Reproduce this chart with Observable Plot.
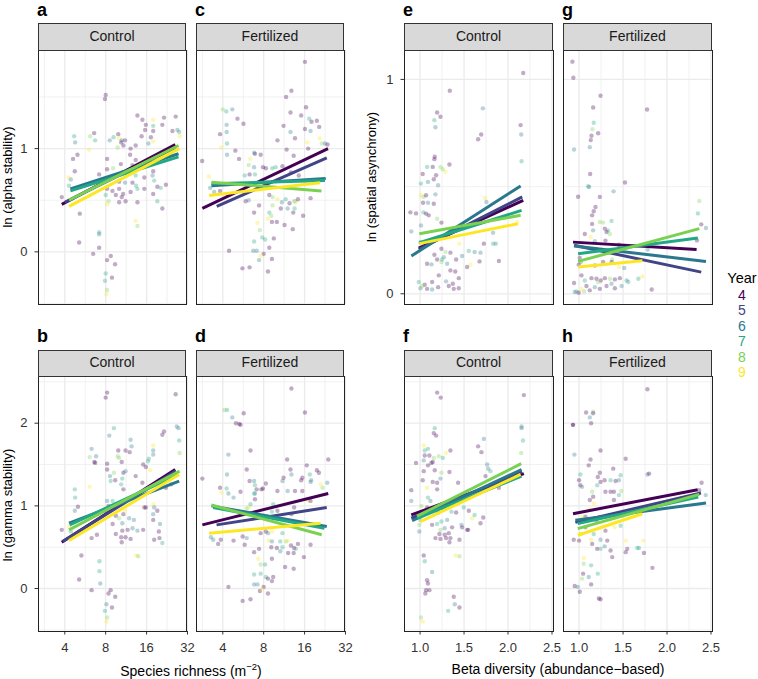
<!DOCTYPE html>
<html><head><meta charset="utf-8">
<script src="https://cdn.jsdelivr.net/npm/d3@7"></script>
<script src="https://cdn.jsdelivr.net/npm/@observablehq/plot@0.6"></script>
<style>
body{margin:0;background:#fff;font-family:"Liberation Sans",Arial,sans-serif;}
#root{position:relative;width:758px;height:679px;overflow:hidden;background:#fff;}
.abs{position:absolute;white-space:nowrap;}
.strip{position:absolute;box-sizing:border-box;background:#D9D9D9;border:1px solid #333;font-size:14px;color:#1a1a1a;text-align:center;}
.letter{position:absolute;font-weight:bold;font-size:18px;line-height:normal;color:#000;}
.ytitle{position:absolute;white-space:nowrap;font-size:13px;color:#000;transform:translate(-50%,-50%) rotate(-90deg);}
.xtitle{position:absolute;white-space:nowrap;font-size:14px;line-height:14px;color:#000;transform:translateX(-50%);}
.leg{position:absolute;font-size:14px;line-height:14px;transform:translateX(-50%);}
</style>
</head><body><div id="root"></div>
<script>
// ---------- data ----------
const years = [4,5,6,7,8,9];
const yearColors = ["#440154","#414487","#2A788E","#22A884","#7AD151","#FDE725"];
const treatments = ["Control","Fertilized"];
const richnessTicks = [4,8,16,32];
const richnessMinor = [2.83,5.66,11.31,22.63];
const betaTicks = [1.0,1.5,2.0,2.5];
const betaMinor = [1.25,1.75,2.25];
const yTicksTop = [0,1];
const yMinorTopLeft = [-0.5,0.5,1.5];
const yMinorTopRight = [0.5];
const yTicksBottom = [0,1,2];
const yMinorBottom = [-0.5,0.5,1.5,2.5];

// points: [x, y, year]
const pointsA = [[8.0,1.52,4],[7.9,1.48,4],[13.7,1.32,4],[14.9,1.28,4],[17.9,1.28,9],[21.5,1.30,4],[26.2,1.31,4],[15.8,1.23,4],[17.9,1.22,7],[17.9,1.17,4],[20.9,1.23,4],[15.6,1.18,4],[14.7,1.12,4],[17.2,1.11,4],[16.5,1.05,6],[17.9,1.07,9],[27.0,1.18,6],[27.8,1.16,7],[28.0,1.12,9],[24.8,1.17,4],[4.69,1.12,7],[4.77,1.06,6],[6.15,1.12,8],[6.58,1.15,4],[6.69,1.08,7],[8.57,1.08,6],[9.13,1.11,7],[9.9,1.14,4],[10.05,1.10,9],[10.5,1.08,6],[10.4,1.06,4],[11.1,1.08,4],[9.8,1.01,8],[10.8,1.03,4],[12.2,1.00,4],[13.3,1.03,4],[6.04,0.99,9],[4.96,0.94,4],[4.6,0.90,4],[8.2,0.90,4],[10.35,0.85,4],[12.1,0.94,4],[13.3,0.89,4],[12.6,0.84,4],[4.74,0.78,4],[7.16,0.75,4],[8.2,0.80,4],[9.06,0.81,8],[9.5,0.74,6],[10.6,0.77,4],[11.2,0.77,7],[13.3,0.74,7],[15.4,0.72,4],[17.9,0.78,4],[17.7,0.74,6],[18.2,0.69,7],[22.2,0.65,4],[4.26,0.72,9],[4.43,0.70,6],[4.3,0.64,7],[8.2,0.71,4],[10.05,0.68,4],[11.1,0.67,6],[12.6,0.67,4],[13.4,0.64,7],[15.4,0.61,4],[8.2,0.61,4],[8.97,0.59,4],[10.05,0.61,4],[10.75,0.56,4],[12.2,0.58,4],[13.7,0.61,7],[19.2,0.63,4],[20.35,0.62,7],[17.9,0.56,4],[9.5,0.55,4],[10.5,0.53,4],[11.2,0.49,4],[10.05,0.48,4],[8.0,0.55,7],[8.4,0.49,8],[8.2,0.46,9],[13.7,0.48,4],[19.2,0.49,7],[20.9,0.42,4],[5.16,0.37,4],[3.8,0.53,4],[13.3,0.30,9],[13.7,0.25,8],[7.16,0.19,7],[7.16,0.17,6],[5.1,0.09,4],[7.16,0.04,4],[6.47,-0.02,4],[8.72,-0.04,4],[8.2,-0.08,4],[9.38,-0.12,4],[8.0,-0.21,7],[8.9,-0.25,4],[7.9,-0.28,7],[8.2,-0.37,8],[8.1,-0.41,9]];
const pointsC = [[16.1,1.84,4],[12.8,1.56,4],[11.7,1.50,4],[12.6,1.35,4],[16.4,1.40,4],[15.1,1.32,4],[17.3,1.29,7],[18.0,1.26,4],[19.7,1.27,4],[20.5,1.21,4],[17.7,1.17,6],[16.1,1.19,4],[11.2,1.22,4],[10.1,1.08,4],[12.6,1.16,6],[13.6,1.10,4],[20.7,1.10,9],[16.8,1.06,9],[21.4,1.05,8],[22.6,1.05,6],[23.6,1.04,4],[17.0,1.00,4],[11.8,0.99,4],[13.3,0.93,4],[4.0,1.38,8],[4.25,1.36,7],[4.7,1.38,6],[5.13,1.29,4],[4.27,1.23,6],[5.68,1.24,4],[4.27,1.16,6],[3.82,1.14,4],[3.9,1.01,9],[4.3,1.05,7],[4.95,0.98,4],[4.3,0.94,6],[5.27,0.90,4],[2.82,0.88,4],[3.16,0.73,9],[3.23,0.62,6],[3.46,0.58,6],[3.82,0.59,4],[6.8,0.96,7],[6.9,0.95,4],[7.6,0.94,4],[6.36,0.90,9],[6.2,0.84,8],[6.8,0.82,6],[7.9,0.82,4],[8.3,0.81,4],[9.27,0.81,7],[9.8,0.82,7],[11.0,0.83,4],[5.8,0.74,7],[6.3,0.75,4],[6.9,0.75,7],[12.7,0.77,4],[14.5,0.74,4],[17.7,0.52,4],[5.9,0.49,4],[6.2,0.50,6],[7.4,0.45,4],[8.8,0.55,4],[9.3,0.53,8],[10.1,0.51,9],[10.9,0.48,6],[11.6,0.51,7],[12.4,0.47,4],[13.5,0.49,7],[13.7,0.48,9],[14.3,0.51,4],[9.3,0.45,8],[10.7,0.42,4],[12.0,0.42,6],[13.2,0.38,4],[13.5,0.42,7],[6.8,0.38,4],[8.8,0.38,7],[9.1,0.35,8],[9.2,0.29,4],[8.6,0.32,9],[10.0,0.29,4],[11.4,0.26,4],[13.1,0.22,4],[15.6,0.35,4],[7.2,0.28,9],[7.5,0.21,8],[7.8,0.14,7],[8.2,0.12,7],[6.8,0.10,7],[9.5,0.13,4],[7.1,0.01,6],[6.7,0.01,6],[8.8,0.04,4],[4.45,0.01,4],[8.0,-0.02,4],[7.6,-0.04,9],[7.4,-0.08,6],[9.2,-0.07,4],[5.58,-0.16,4],[6.3,-0.15,4],[8.6,-0.19,4]];
const pointsE = [[2.173,1.03,4],[1.338,0.947,4],[1.714,0.865,6],[1.194,0.846,4],[1.232,0.826,4],[1.163,0.81,7],[1.175,0.777,6],[2.143,0.787,4],[2.15,0.743,6],[1.695,0.743,4],[1.66,0.721,4],[2.154,0.618,7],[1.167,0.639,4],[1.163,0.628,4],[1.08,0.592,7],[1.144,0.592,4],[1.232,0.592,8],[1.258,0.581,8],[1.289,0.569,9],[1.334,0.603,4],[1.03,0.559,4],[1.182,0.553,4],[1.01,0.514,7],[1.09,0.522,6],[1.156,0.534,4],[1.205,0.506,6],[1.01,0.46,9],[1.04,0.452,8],[1.068,0.46,4],[1.175,0.464,6],[1.034,0.425,4],[1.09,0.425,6],[1.156,0.42,4],[0.89,0.38,4],[0.954,0.375,4],[0.90,0.291,6],[1.038,0.38,7],[1.068,0.374,4],[1.099,0.366,4],[1.194,0.35,8],[1.243,0.332,4],[1.011,0.319,6],[1.737,0.447,9],[1.755,0.428,6],[1.83,0.285,6],[1.725,0.234,4],[1.83,0.234,7],[1.86,0.234,6],[1.896,0.153,4],[2.105,0.335,9],[1.448,0.234,9],[1.004,0.241,7],[1.243,0.21,4],[1.289,0.195,8],[1.345,0.192,4],[1.27,0.171,6],[1.194,0.16,4],[1.13,0.137,6],[1.08,0.14,4],[1.243,0.148,8],[1.308,0.14,6],[1.41,0.16,4],[1.478,0.176,6],[1.554,0.2,7],[1.62,0.195,6],[1.687,0.192,6],[1.676,0.151,4],[1.573,0.136,9],[1.535,0.125,4],[1.345,0.109,4],[1.4,0.104,4],[1.44,0.073,4],[1.372,0.047,4],[1.296,0.058,6],[1.213,0.086,4],[1.137,0.055,4],[1.053,0.042,4],[1.08,0.023,4],[1.004,0.026,6],[1.137,0.02,6],[1.205,0.031,4],[1.326,0.036,4],[1.383,0.023,4],[1.44,0.026,4],[0.985,0.055,7],[1.023,0.036,8],[1.25,0.16,7],[1.163,0.182,4]];
const pointsG = [[0.924,1.083,4],[0.935,1.008,4],[1.244,0.924,4],[1.16,0.869,4],[1.773,0.86,4],[1.167,0.798,7],[1.152,0.768,8],[1.217,0.749,4],[1.141,0.737,4],[1.133,0.717,4],[1.122,0.684,6],[0.943,0.673,6],[1.126,0.559,4],[1.103,0.502,7],[1.114,0.498,6],[1.522,0.519,4],[1.392,0.478,6],[0.989,0.453,4],[1.236,0.452,4],[1.187,0.405,4],[1.167,0.385,4],[1.148,0.366,4],[1.236,0.335,8],[1.274,0.332,8],[1.369,0.34,7],[1.148,0.326,4],[1.16,0.296,6],[1.293,0.304,4],[1.33,0.296,7],[1.312,0.288,4],[1.065,0.279,4],[1.133,0.265,9],[1.35,0.279,8],[1.179,0.245,6],[1.3,0.248,4],[1.453,0.229,4],[2.367,0.433,8],[2.351,0.375,7],[2.389,0.324,4],[2.443,0.307,6],[2.34,0.249,4],[1.78,0.206,6],[1.008,0.167,4],[1.377,0.16,8],[0.996,0.136,4],[1.019,0.148,6],[1.179,0.132,4],[1.274,0.148,4],[1.369,0.148,4],[1.453,0.125,9],[1.514,0.12,6],[1.027,0.086,4],[1.065,0.062,7],[1.141,0.073,4],[1.198,0.07,4],[1.247,0.062,4],[1.293,0.073,4],[1.35,0.07,8],[1.407,0.067,4],[1.464,0.073,4],[1.541,0.062,6],[1.56,0.055,7],[1.674,0.07,7],[1.72,0.081,9],[1.826,0.02,4],[0.943,0.05,4],[0.97,0.011,7],[1.027,0.023,9],[1.084,0.036,4],[1.122,0.016,4],[1.179,0.031,6],[1.236,0.023,4],[1.312,0.036,4],[1.407,0.026,4],[0.996,0.005,4],[0.951,0.008,6],[1.057,0.011,8],[1.217,0.055,8],[1.369,0.047,6],[1.483,0.036,6]];
const pointsB = [[8.2,2.37,4],[8.0,2.31,4],[26.2,2.35,4],[26.7,1.96,6],[27.5,1.94,6],[21.5,1.90,4],[20.9,1.86,4],[9.2,1.94,7],[8.5,1.85,6],[27.8,1.79,7],[28.0,1.64,8],[12.2,1.80,6],[12.4,1.72,6],[6.3,1.69,6],[6.1,1.59,8],[6.8,1.60,6],[6.7,1.52,4],[6.6,1.53,4],[9.9,1.67,4],[9.8,1.60,8],[10.05,1.58,8],[10.5,1.53,4],[11.2,1.67,4],[12.0,1.65,4],[17.9,1.73,9],[17.9,1.67,6],[17.9,1.62,6],[16.6,1.57,7],[16.4,1.54,7],[15.1,1.50,4],[15.8,1.47,4],[17.0,1.43,9],[8.2,1.51,4],[8.2,1.44,4],[9.2,1.40,8],[10.8,1.40,4],[11.2,1.42,6],[8.6,1.36,6],[8.7,1.30,7],[9.4,1.31,4],[10.6,1.33,7],[10.4,1.26,7],[10.8,1.20,4],[13.3,1.36,4],[14.9,1.28,4],[19.9,1.31,4],[22.2,1.22,4],[24.3,1.26,4],[6.1,1.23,9],[4.74,1.20,7],[4.77,1.10,7],[5.0,0.99,4],[4.74,0.94,6],[3.8,0.71,4],[4.3,0.75,9],[4.43,0.69,7],[8.2,1.06,6],[9.0,1.06,7],[8.4,1.00,4],[8.0,0.94,4],[9.5,0.88,4],[10.8,0.90,4],[11.1,0.94,9],[10.05,0.85,8],[11.9,0.85,6],[12.9,0.83,6],[15.4,0.98,4],[15.8,0.98,4],[18.0,1.02,9],[18.2,0.98,6],[19.2,0.94,4],[17.9,0.90,6],[17.9,0.83,4],[20.1,0.78,6],[19.7,0.69,4],[19.9,0.61,4],[20.9,0.55,7],[18.2,0.59,4],[10.6,0.79,6],[10.6,0.70,4],[11.6,0.71,4],[12.6,0.73,6],[13.7,0.70,6],[15.1,0.71,4],[9.0,0.78,4],[9.5,0.66,4],[10.4,0.62,4],[11.2,0.62,4],[12.2,0.60,4],[10.5,0.56,4],[6.3,0.61,4],[6.9,0.65,4],[5.3,0.40,4],[13.4,0.40,9],[13.9,0.39,8],[7.2,0.33,7],[7.2,0.21,7],[5.1,0.11,4],[7.3,0.06,6],[6.3,-0.02,4],[8.7,-0.02,4],[8.4,-0.06,4],[9.4,-0.10,4],[8.1,-0.19,6],[8.9,-0.23,4],[7.9,-0.27,7],[8.2,-0.35,8],[8.1,-0.40,9]];
const pointsD = [[12.8,2.42,4],[16.1,2.13,4],[4.1,2.16,8],[4.3,2.16,7],[4.7,2.07,6],[5.7,2.12,4],[5.0,2.00,4],[5.3,1.99,4],[5.4,1.98,4],[4.4,1.62,6],[6.4,1.67,4],[11.9,1.56,4],[23.9,1.56,4],[2.83,1.33,4],[6.0,1.44,4],[4.3,1.38,6],[12.6,1.44,4],[12.8,1.38,6],[11.2,1.34,4],[11.0,1.30,6],[15.1,1.31,4],[15.4,1.34,4],[16.6,1.49,4],[19.7,1.43,4],[20.4,1.40,4],[17.5,1.38,7],[17.9,1.31,6],[17.7,1.29,6],[6.3,1.30,4],[6.8,1.30,6],[6.9,1.25,7],[7.1,1.20,4],[8.3,1.27,4],[7.7,1.20,4],[7.9,1.21,4],[10.1,1.18,4],[12.0,1.18,6],[13.6,1.18,4],[15.4,1.18,4],[21.0,1.26,9],[23.5,1.28,6],[21.7,1.22,8],[3.82,1.22,4],[3.9,1.16,9],[4.27,1.21,7],[4.4,1.15,6],[4.8,1.10,6],[5.4,1.17,4],[6.9,1.15,6],[6.9,1.08,4],[6.8,1.15,7],[17.1,1.06,9],[17.7,1.06,4],[9.4,1.02,7],[13.4,0.98,4],[6.2,0.98,9],[6.0,0.97,8],[6.4,1.02,7],[9.2,0.93,7],[10.1,0.94,4],[12.8,0.90,4],[3.27,0.62,6],[3.4,0.59,6],[3.7,0.54,4],[3.87,0.59,4],[4.8,0.58,4],[5.6,0.63,4],[6.0,0.61,6],[5.8,0.53,4],[7.6,0.67,4],[8.3,0.69,4],[9.2,0.69,9],[8.6,0.67,6],[11.0,0.67,7],[8.7,0.58,9],[9.2,0.57,6],[10.6,0.57,7],[11.7,0.57,8],[12.0,0.58,9],[12.7,0.52,4],[13.4,0.49,4],[13.8,0.48,7],[14.3,0.54,4],[12.1,0.43,4],[13.3,0.43,4],[9.1,0.50,4],[10.0,0.49,4],[10.6,0.45,6],[11.0,0.50,7],[15.8,0.38,4],[17.7,0.53,4],[6.8,0.44,4],[7.4,0.48,4],[9.2,0.36,4],[7.3,0.36,9],[7.6,0.29,8],[8.2,0.29,7],[6.8,0.17,7],[7.6,0.18,7],[8.3,0.14,7],[8.6,0.12,4],[9.4,0.14,4],[9.2,0.09,4],[11.5,0.26,4],[13.3,0.24,4],[6.8,0.05,6],[7.2,0.05,6],[8.0,0.02,4],[7.5,-0.03,4],[8.6,-0.06,4],[4.4,0.02,4],[5.6,-0.15,4],[6.4,-0.13,4],[7.8,-0.01,9]];
const pointsF = [[1.194,2.37,4],[1.235,2.31,4],[2.18,2.34,4],[2.154,1.96,6],[2.154,1.94,6],[2.17,1.79,7],[2.15,1.64,8],[1.167,1.94,7],[1.156,1.88,4],[1.182,1.85,4],[1.725,1.81,6],[1.66,1.72,4],[1.698,1.65,4],[1.042,1.73,9],[1.053,1.67,7],[1.09,1.69,7],[1.053,1.61,4],[1.106,1.61,4],[1.156,1.58,8],[1.213,1.60,8],[1.258,1.58,7],[1.345,1.67,4],[1.296,1.64,9],[1.042,1.55,6],[1.09,1.49,4],[1.129,1.52,4],[1.144,1.53,4],[0.954,1.52,4],[1.167,1.43,4],[1.243,1.40,8],[1.042,1.42,4],[1.334,1.41,4],[1.232,1.33,6],[1.144,1.29,4],[1.194,1.28,4],[1.03,1.31,4],[1.08,1.22,9],[1.194,1.20,4],[1.433,1.28,4],[1.763,1.50,6],[1.775,1.45,6],[1.744,1.36,4],[1.80,1.42,7],[1.896,1.22,4],[0.90,1.19,4],[0.90,1.06,6],[1.09,1.10,7],[1.118,1.06,6],[1.015,1.00,8],[1.08,0.98,4],[1.205,0.92,4],[1.27,0.96,4],[1.357,0.93,7],[1.41,0.92,4],[1.497,0.98,7],[1.554,0.94,4],[1.592,0.85,9],[1.62,0.89,7],[1.687,0.79,4],[1.718,0.86,4],[1.004,0.83,7],[0.992,0.77,8],[0.992,0.69,6],[1.137,0.77,4],[1.194,0.78,7],[1.243,0.81,7],[1.308,0.83,6],[1.28,0.73,6],[1.232,0.71,8],[1.364,0.74,4],[1.47,0.77,6],[1.478,0.74,4],[1.535,0.71,4],[1.547,0.71,4],[1.22,0.66,4],[1.28,0.65,4],[1.326,0.67,4],[1.175,0.61,4],[1.232,0.60,4],[1.296,0.61,4],[1.345,0.61,4],[1.334,0.56,4],[1.448,0.59,4],[1.402,0.40,9],[1.448,0.39,8],[1.042,0.40,4],[1.053,0.33,7],[1.137,0.20,6],[1.08,0.10,4],[1.09,0.06,4],[1.068,-0.02,4],[1.106,-0.02,4],[1.06,-0.06,4],[1.383,-0.10,4],[1.395,-0.19,6],[1.448,-0.23,4],[1.319,-0.27,7],[1.011,-0.35,8],[1.03,-0.40,9]];
const pointsH = [[1.777,2.41,4],[1.08,2.13,4],[1.16,2.14,8],[1.16,2.12,4],[1.122,2.07,6],[1.137,2.00,4],[0.931,1.98,4],[0.931,1.98,4],[0.947,1.62,6],[1.244,1.67,4],[1.53,1.57,4],[1.13,1.56,4],[1.11,1.49,4],[1.388,1.45,4],[1.236,1.40,4],[1.472,1.37,7],[1.777,1.38,6],[1.796,1.39,4],[1.015,1.38,7],[1.0,1.31,4],[1.213,1.35,4],[1.244,1.29,4],[1.29,1.31,4],[1.358,1.31,7],[1.415,1.30,4],[1.453,1.31,6],[1.015,1.25,4],[1.034,1.23,6],[1.206,1.25,7],[1.30,1.17,4],[1.358,1.17,4],[1.396,1.17,4],[1.48,1.18,8],[1.453,1.13,7],[1.149,1.17,8],[1.16,1.11,4],[1.167,1.03,9],[1.122,1.07,4],[1.396,1.07,4],[2.393,1.28,4],[2.44,1.13,6],[2.366,1.19,4],[2.328,1.11,7],[0.939,0.59,4],[1.0,0.58,4],[1.015,0.66,8],[1.137,0.59,9],[1.167,0.66,7],[1.244,0.59,6],[1.149,0.54,4],[1.206,0.48,4],[1.244,0.48,7],[1.29,0.51,6],[1.32,0.58,4],[1.358,0.46,4],[1.377,0.38,4],[1.53,0.58,9],[1.548,0.48,4],[1.53,0.44,4],[1.662,0.49,7],[1.681,0.49,7],[1.731,0.58,9],[1.738,0.43,4],[1.834,0.25,4],[1.053,0.37,9],[1.053,0.30,8],[1.137,0.28,7],[1.046,0.18,4],[1.11,0.14,6],[1.034,0.12,8],[1.213,0.18,7],[1.137,0.05,4],[0.95,0.03,4],[1.008,-0.04,4],[0.985,0.02,6],[1.244,-0.13,4],[1.225,-0.12,4],[1.072,0.87,4],[1.034,0.87,9],[1.072,0.74,4],[1.122,0.96,9],[1.198,0.82,4],[1.30,0.70,4],[1.404,0.74,9],[1.472,0.76,7]];

// fitted lines: [year, x1, y1, x2, y2]
const linesA = [[4,3.8,0.46,26.0,1.04],[5,4.0,0.48,26.0,1.01],[6,4.4,0.61,27.5,0.95],[7,4.4,0.59,27.5,0.92],[8,4.3,0.50,27.5,1.03],[9,4.3,0.44,27.8,1.00]];
const linesC = [[4,2.83,0.42,23.8,1.00],[5,3.61,0.44,23.3,0.91],[6,3.3,0.64,22.9,0.71],[7,3.3,0.66,22.6,0.69],[8,3.3,0.675,21.3,0.59],[9,3.17,0.545,20.8,0.67]];
const linesE = [[4,0.985,0.213,2.173,0.436],[5,0.985,0.207,2.162,0.452],[6,0.901,0.176,2.143,0.503],[7,0.992,0.238,2.154,0.389],[8,0.992,0.28,2.143,0.366],[9,0.992,0.234,2.112,0.327]];
const linesG = [[4,0.931,0.241,2.336,0.207],[5,0.943,0.226,2.389,0.101],[6,0.943,0.223,2.443,0.151],[7,0.989,0.187,2.351,0.26],[8,0.989,0.151,2.367,0.304],[9,0.989,0.125,1.72,0.154]];
const linesB = [[4,3.8,0.56,26.0,1.44],[5,3.85,0.57,26.2,1.42],[6,4.3,0.79,27.8,1.30],[7,4.35,0.77,27.5,1.38],[8,4.3,0.71,28.0,1.42],[9,4.3,0.58,27.8,1.38]];
const linesD = [[4,2.83,0.77,23.9,1.15],[5,3.6,0.77,23.3,0.98],[6,3.3,1.0,23.3,0.75],[7,3.4,0.98,22.4,0.73],[8,3.3,1.01,21.4,0.65],[9,3.17,0.67,21.0,0.79]];
const linesF = [[4,0.90,0.89,2.18,1.39],[5,0.90,0.85,2.16,1.41],[6,0.91,0.82,2.154,1.44],[7,0.966,0.85,2.154,1.36],[8,0.966,0.875,2.15,1.51],[9,1.004,0.81,2.143,1.38]];
const linesH = [[4,0.931,0.905,2.348,1.195],[5,0.958,0.80,2.386,1.155],[6,0.958,0.825,2.443,1.034],[7,0.985,0.785,2.355,1.107],[8,0.985,0.724,2.366,1.139],[9,0.985,0.644,1.72,0.905]];

// ---------- layout ----------
const root = document.getElementById("root");
const FONT = "'Liberation Sans', Arial, Helvetica, sans-serif";
const richDomain = [2.562, 31.47];
const betaDomain = [0.823, 2.517];
const yDomTL = [-0.51, 1.95], yDomTR = [-0.05, 1.135], yDomB = [-0.52, 2.565];

const panels = [
  {letter:"a", pts:pointsA, lines:linesA, kind:"rich", x0:38,  y0:50,  w:148, h:254, yd:yDomTL, yt:yTicksTop, ym:yMinorTopLeft, yAxis:true,  xAxis:false, strip:treatments[0]},
  {letter:"c", pts:pointsC, lines:linesC, kind:"rich", x0:196, y0:50,  w:148, h:254, yd:yDomTL, yt:yTicksTop, ym:yMinorTopLeft, yAxis:false, xAxis:false, strip:treatments[1]},
  {letter:"e", pts:pointsE, lines:linesE, kind:"beta", x0:404, y0:50,  w:149, h:254, yd:yDomTR, yt:yTicksTop, ym:yMinorTopRight, yAxis:true, xAxis:false, strip:treatments[0]},
  {letter:"g", pts:pointsG, lines:linesG, kind:"beta", x0:563, y0:50,  w:149, h:254, yd:yDomTR, yt:yTicksTop, ym:yMinorTopRight, yAxis:false, xAxis:false, strip:treatments[1]},
  {letter:"b", pts:pointsB, lines:linesB, kind:"rich", x0:38,  y0:376, w:148, h:255, yd:yDomB, yt:yTicksBottom, ym:yMinorBottom, yAxis:true,  xAxis:true, strip:treatments[0]},
  {letter:"d", pts:pointsD, lines:linesD, kind:"rich", x0:196, y0:376, w:148, h:255, yd:yDomB, yt:yTicksBottom, ym:yMinorBottom, yAxis:false, xAxis:true, strip:treatments[1]},
  {letter:"f", pts:pointsF, lines:linesF, kind:"beta", x0:404, y0:376, w:149, h:255, yd:yDomB, yt:yTicksBottom, ym:yMinorBottom, yAxis:false, xAxis:true, strip:treatments[0]},
  {letter:"h", pts:pointsH, lines:linesH, kind:"beta", x0:563, y0:376, w:149, h:255, yd:yDomB, yt:yTicksBottom, ym:yMinorBottom, yAxis:false, xAxis:true, strip:treatments[1]}
];

function addDiv(cls, html, style){
  const d = document.createElement("div");
  d.className = cls; d.innerHTML = html;
  Object.assign(d.style, style);
  root.appendChild(d);
  return d;
}

panels.forEach(p => {
  const mL = 40, mR = 1, mT = 1, mB = 40;
  const rich = p.kind === "rich";
  const xMajor = rich ? richnessTicks : betaTicks;
  const xMinor = rich ? richnessMinor : betaMinor;
  const svg = Plot.plot({
    width: p.w + mL + mR,
    height: p.h + mT + mB,
    marginLeft: mL, marginRight: mR, marginTop: mT, marginBottom: mB,
    style: {background: "none", overflow: "visible", fontFamily: FONT, fontSize: "13px", color: "#333"},
    x: rich
      ? {type: "log", base: 2, domain: richDomain, axis: p.xAxis ? "bottom" : null, ticks: richnessTicks, tickFormat: d => String(d), tickSize: 3.5, tickPadding: 8, label: null}
      : {type: "linear", domain: betaDomain, axis: p.xAxis ? "bottom" : null, ticks: betaTicks, tickFormat: d => d.toFixed(1), tickSize: 3.5, tickPadding: 8, label: null},
    y: {domain: p.yd, axis: p.yAxis ? "left" : null, ticks: p.yt, tickFormat: d => String(d), tickSize: 3.5, tickPadding: 7.5, label: null},
    color: {type: "ordinal", domain: years, range: yearColors},
    marks: [
      Plot.ruleX(xMinor, {stroke: "#EBEBEB", strokeWidth: 0.7}),
      Plot.ruleY(p.ym, {stroke: "#EBEBEB", strokeWidth: 0.7}),
      Plot.ruleX(xMajor, {stroke: "#EBEBEB", strokeWidth: 1.3}),
      Plot.ruleY(p.yt, {stroke: "#EBEBEB", strokeWidth: 1.3}),
      Plot.dot(p.pts, {x: d => d[0], y: d => d[1], fill: d => d[2], r: 2.2, fillOpacity: 0.33, stroke: null}),
      Plot.link(p.lines, {x1: d => d[1], y1: d => d[2], x2: d => d[3], y2: d => d[4], stroke: d => d[0], strokeWidth: 3, strokeLinecap: "butt"}),
      Plot.frame({stroke: "#222", strokeWidth: 1})
    ]
  });
  const wrap = document.createElement("div");
  wrap.style.position = "absolute";
  wrap.style.left = (p.x0 - mL) + "px";
  wrap.style.top = (p.y0 - mT) + "px";
  wrap.appendChild(svg);
  root.appendChild(wrap);

  const top = p.y0 < 200;
  addDiv("strip", p.strip, {left: p.x0 + "px", top: (top ? 23 : 350) + "px", width: p.w + "px", height: (top ? 28 : 27) + "px", lineHeight: (top ? 24 : 23) + "px"});
  addDiv("letter", p.letter, {left: (p.x0 - 1) + "px", top: (top ? 0 : 326.4) + "px"});
});

// axis titles
addDiv("ytitle", "ln (alpha stability)", {left: "7px", top: "177px"});
addDiv("ytitle", "ln (gamma stability)", {left: "7px", top: "505px"});
addDiv("ytitle", "ln (spatial asynchrony)", {left: "371px", top: "177px"});
addDiv("xtitle", "Species richness (m<sup style=\"font-size:9.5px;vertical-align:6px;line-height:0\">\u22122</sup>)", {left: "191px", top: "663.8px"});
addDiv("xtitle", "Beta diversity (abundance\u2212based)", {left: "558px", top: "662px"});

// legend
addDiv("leg", "Year", {left: "742px", top: "270.5px", fontSize: "14.5px", lineHeight: "15px", color: "#000"});
years.forEach((yr, i) => {
  addDiv("leg", String(yr), {left: "742px", top: (287.6 + i * 15.5) + "px", color: yearColors[i]});
});
</script>
</body></html>
